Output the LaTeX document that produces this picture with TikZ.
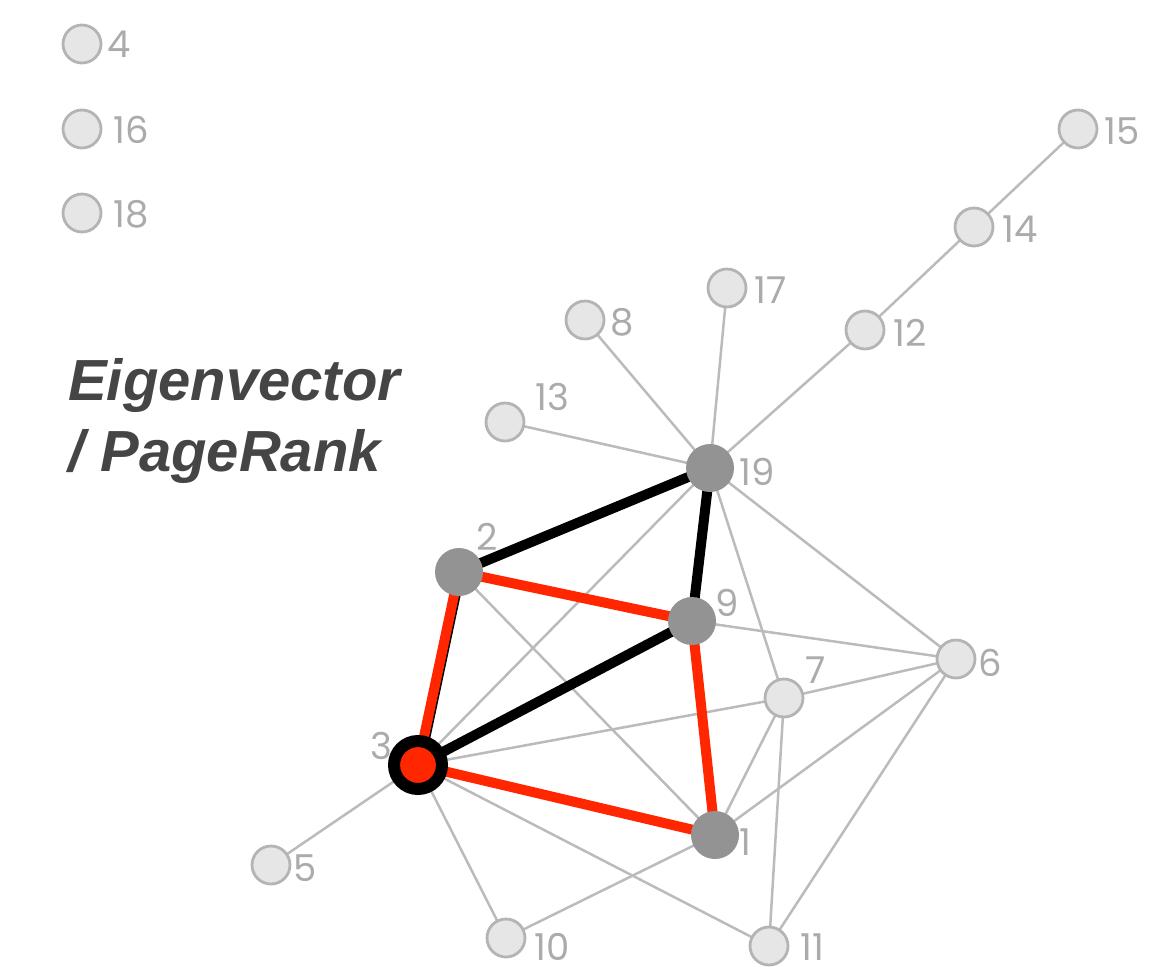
\documentclass[tikz,border=0pt]{standalone}
\usepackage{fontspec}
\setmainfont{Liberation Sans}
\newfontfamily\numfont{Poppins}
\definecolor{edgegray}{HTML}{BBBBBB}
\definecolor{nodefill}{HTML}{E6E6E6}
\definecolor{nodeline}{HTML}{B4B4B4}
\definecolor{hubgray}{HTML}{939393}
\definecolor{hotred}{HTML}{FF2600}
\definecolor{labelgray}{HTML}{ABABAB}
\definecolor{titlegray}{HTML}{454545}
\pgfdeclarelayer{back}
\pgfsetlayers{back,main}
\begin{document}
\begin{tikzpicture}[x=1pt,y=-1pt,
  plain/.style={circle,draw=nodeline,fill=nodefill,line width=2.8pt,minimum size=38pt,inner sep=0pt},
  hub/.style={circle,fill=hubgray,minimum size=48pt,inner sep=0pt},
  focus/.style={circle,draw=black,fill=hotred,line width=12pt,minimum size=48pt,inner sep=0pt},
  lbl/.style={text=labelgray,font=\numfont\fontsize{37}{40}\selectfont,inner sep=0pt,
      text height=26pt,text depth=0pt},
  thin/.style={draw=edgegray,line width=2.5pt},
  blk/.style={draw=black,line width=10pt},
  rd/.style={draw=hotred,line width=10pt},
  title/.style={anchor=base west,inner sep=0pt,text=titlegray,
      font=\fontsize{58}{64}\selectfont\bfseries\itshape}]
\useasboundingbox (0,0) rectangle (1158,967);

% vertices
\node[plain] (n4)  at (82,44)   {};
\node[plain] (n16) at (82,129)  {};
\node[plain] (n18) at (82,213)  {};
\node[plain] (n15) at (1078,129) {};
\node[plain] (n14) at (974,227) {};
\node[plain] (n12) at (865,330) {};
\node[plain] (n17) at (727,288) {};
\node[plain] (n8)  at (585,320) {};
\node[plain] (n13) at (505,422) {};
\node[plain] (n6)  at (956,659) {};
\node[plain] (n7)  at (784,698) {};
\node[plain] (n5)  at (271,865) {};
\node[plain] (n10) at (506,938) {};
\node[plain] (n11) at (769,946) {};
\node[hub] (n19) at (710,468) {};
\node[hub] (n2)  at (459,572) {};
\node[hub] (n9)  at (692,621) {};
\node[hub] (n1)  at (715,835) {};
\node[focus] (n3) at (418,765) {};

% edges, kept behind the vertices
\begin{pgfonlayer}{back}
\foreach \a/\b in {15/14,14/12,12/19,17/19,8/19,13/19,19/3,19/7,19/6,2/1,9/6,
                   3/7,3/5,3/10,3/11,7/6,7/1,7/11,6/1,6/11,10/1}
  \draw[thin] (n\a.center) -- (n\b.center);
\foreach \a/\b in {2/19,19/9,9/3}
  \draw[blk] (n\a.center) -- (n\b.center);
\draw[blk] ([xshift=1.5pt]n2.center) -- ([xshift=1.5pt]n3.center);
\foreach \a/\b in {2/9,2/3,9/1,3/1}
  \draw[rd] (n\a.center) -- (n\b.center);
\end{pgfonlayer}

% vertex numbers
\node[lbl] (l4)  at (119,44)   {4};
\node[lbl] (l16) at (131,130)  {16};
\node[lbl] (l18) at (131,214)  {18};
\node[lbl] (l15) at (1122,131) {15};
\node[lbl] (l14) at (1020,229) {14};
\node[lbl] (l12) at (910,333)  {12};
\node[lbl] (l17) at (771,290)  {17};
\node[lbl] (l8)  at (622,322)  {8};
\node[lbl] (l13) at (552,397)  {13};
\node[lbl] (l19) at (757,472)  {19};
\node[lbl] (l2)  at (487,537)  {2};
\node[lbl] (l9)  at (727,603)  {9};
\node[lbl] (l7)  at (816,670)  {7};
\node[lbl] (l6)  at (990,663)  {6};
\node[lbl] (l3)  at (381,746)  {3};
\node[lbl] (l1)  at (745,842)  {1};
\node[lbl] (l5)  at (305,868)  {5};
\node[lbl] (l10) at (552,947)  {10};
\node[lbl] (l11) at (812,947)  {11};

% heading
\node[title] (t1) at (68,400) {Eigenvector};
\node[title] (t2) at (68,471) {/ PageRank};
\end{tikzpicture}
\end{document}
